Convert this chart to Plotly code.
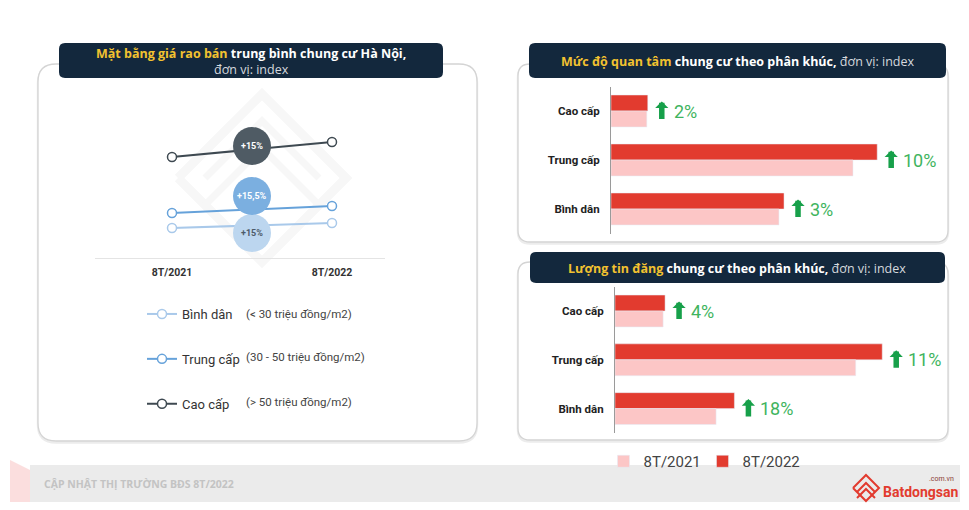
import plotly.graph_objects as go

W, H = 969, 510

# ---------------- data ----------------
periods = ["8T/2021", "8T/2022"]
line_segments = ["Bình dân", "Trung cấp", "Cao cấp"]
price_binh_dan = [30, 35]
price_trung_cap = [45, 52]
price_cao_cap = [101, 116]
price_change_labels = ["+15%", "+15,5%", "+15%"]
segment_ranges = ["(< 30 triệu đồng/m2)", "(30 - 50 triệu đồng/m2)", "(> 50 triệu đồng/m2)"]

bar_segments = ["Cao cấp", "Trung cấp", "Bình dân"]
interest_2021 = [14.8, 100, 69.4]
interest_2022 = [15.2, 110, 71.5]
interest_change = ["2%", "10%", "3%"]
listings_2021 = [20, 100, 42]
listings_2022 = [20.8, 111, 49.6]
listings_change = ["4%", "11%", "18%"]

# ---------------- styles ----------------
FONT = "Roboto"
TITLE_FONT = "Open Sans"
NAVY = "#13283d"
YELLOW = "#f2c230"
RED = "#e23b2f"
PINK = "#fcc6c6"
GREEN_ARROW = "#17a04a"
GREEN_TEXT = "#3fb45e"
LINE_COLORS = ["#a9c9ea", "#66a2da", "#3e4951"]
BUBBLE_COLORS = ["#bcd6ef", "#7bafe0", "#4f5b64"]
BUBBLE_TEXT = ["#4d5b69", "white", "white"]
BUBBLE_OFFSETS = [-7.5, 13.5, 3.5]  # px offset of bubble from line midpoint


def px(x):
    return x / W


def py(y):
    return 1 - y / H


def rrect(x0, y0, x1, y1, r):
    pts = [
        ("M", x0 + r, y0), ("L", x1 - r, y0), ("Q", x1, y0, x1, y0 + r),
        ("L", x1, y1 - r), ("Q", x1, y1, x1 - r, y1), ("L", x0 + r, y1),
        ("Q", x0, y1, x0, y1 - r), ("L", x0, y0 + r), ("Q", x0, y0, x0 + r, y0),
    ]
    s = ""
    for p in pts:
        cmd = p[0]
        coords = p[1:]
        pairs = []
        for i in range(0, len(coords), 2):
            pairs.append(f"{px(coords[i]):.5f},{py(coords[i+1]):.5f}")
        s += cmd + " " + " ".join(pairs) + " "
    return s + "Z"


def poly(points, close=False):
    s = "M " + " L ".join(f"{px(a):.5f},{py(b):.5f}" for a, b in points)
    return s + (" Z" if close else "")


fig = go.Figure()

# ---------------- left line chart ----------------
x_idx = list(range(len(periods)))
series = [price_binh_dan, price_trung_cap, price_cao_cap]
for name, vals, col in zip(line_segments, series, LINE_COLORS):
    fig.add_trace(go.Scatter(
        x=x_idx, y=vals, name=name, mode="lines+markers",
        line=dict(color=col, width=2),
        marker=dict(symbol="circle", size=9, color="white", line=dict(color=col, width=1.5)),
        xaxis="x", yaxis="y", legend="legend2", legendgroup=name, showlegend=True,
        hoverinfo="skip",
    ))

# ---------------- bar charts ----------------
fig.add_trace(go.Bar(y=bar_segments, x=interest_2022, orientation="h", name="8T/2022",
                     marker_color=RED, xaxis="x2", yaxis="y2", legendgroup="2022", legendrank=2))
fig.add_trace(go.Bar(y=bar_segments, x=interest_2021, orientation="h", name="8T/2021",
                     marker_color=PINK, xaxis="x2", yaxis="y2", legendgroup="2021", legendrank=1))
fig.add_trace(go.Bar(y=bar_segments, x=listings_2022, orientation="h", name="8T/2022",
                     marker_color=RED, xaxis="x3", yaxis="y3", legendgroup="2022", showlegend=False))
fig.add_trace(go.Bar(y=bar_segments, x=listings_2021, orientation="h", name="8T/2021",
                     marker_color=PINK, xaxis="x3", yaxis="y3", legendgroup="2021", showlegend=False))

shapes = []
annotations = []

# ---------------- decorations: panels ----------------
for (x0, y0, x1, y1, r) in [(38, 64, 477, 441, 18), (518, 64, 948, 242, 12), (518, 262, 948, 440, 12)]:
    shapes.append(dict(type="path", xref="paper", yref="paper", layer="below",
                       path=rrect(x0, y0 + 1.5, x1, y1 + 1.5, r),
                       line=dict(color="#ececec", width=2.5), fillcolor="rgba(0,0,0,0)"))
    shapes.append(dict(type="path", xref="paper", yref="paper", layer="below",
                       path=rrect(x0, y0, x1, y1, r),
                       line=dict(color="#d4d4d4", width=1.3), fillcolor="white"))

# watermark in the left panel
for pts, w in [
    ([(178, 178), (262, 94), (346, 178), (262, 262), (178, 178)], 9),
    ([(205, 178), (262, 121), (319, 178)], 7),
    ([(205, 205), (262, 148), (319, 205)], 7),
]:
    shapes.append(dict(type="path", xref="paper", yref="paper", layer="below",
                       path=poly(pts), line=dict(color="#f7f7f7", width=w)))

# title boxes
for (x0, y0, x1, y1) in [(59, 43, 443, 78), (529, 43, 946, 78), (530, 252, 945, 283)]:
    shapes.append(dict(type="path", xref="paper", yref="paper", layer="below",
                       path=rrect(x0, y0, x1, y1, 6), line=dict(width=0), fillcolor=NAVY))

# footer
shapes.append(dict(type="path", xref="paper", yref="paper", layer="below",
                   path=poly([(10, 460), (30, 470), (30, 502), (10, 502)], close=True),
                   line=dict(width=0), fillcolor="#fbdede"))
shapes.append(dict(type="rect", xref="paper", yref="paper", layer="below",
                   x0=px(30), x1=px(960), y0=py(502), y1=py(465),
                   line=dict(width=0), fillcolor="#ebebeb"))
# logo mark
for pts in [
    [(853, 488), (866, 475), (879, 488), (866, 501), (853, 488)],
    [(857, 492), (866, 483), (875, 492)],
    [(857, 498), (866, 489), (875, 498)],
]:
    shapes.append(dict(type="path", xref="paper", yref="paper", layer="below",
                       path=poly(pts), line=dict(color=RED, width=2)))

# ---------------- bubbles on the line chart ----------------
mid_x = sum(x_idx) / len(x_idx)
for vals, col, tcol, off, lab in zip(series, BUBBLE_COLORS, BUBBLE_TEXT, BUBBLE_OFFSETS, price_change_labels):
    mid_y = sum(vals) / len(vals)
    shapes.append(dict(type="circle", xref="x", yref="y", layer="above",
                       xsizemode="pixel", ysizemode="pixel", xanchor=mid_x, yanchor=mid_y,
                       x0=-19, x1=19, y0=off - 19, y1=off + 19,
                       fillcolor=col, line=dict(width=0)))
    annotations.append(dict(xref="x", yref="y", x=mid_x, y=mid_y, yshift=off,
                            text=f"<b>{lab}</b>", showarrow=False,
                            font=dict(size=9, color=tcol, family=FONT)))

# ---------------- titles ----------------
annotations.append(dict(
    xref="paper", yref="paper", x=px(251), y=py(61), xanchor="center", yanchor="middle",
    text=(f"<b><span style='color:{YELLOW}'>Mặt bằng giá rao bán</span> trung bình chung cư Hà Nội,</b>"
          f"<br><span style='color:#d6d9de'>đơn vị: index</span>"),
    showarrow=False, align="center", font=dict(size=12.5, color="white", family=TITLE_FONT)))
annotations.append(dict(
    xref="paper", yref="paper", x=px(737), y=py(61), xanchor="center", yanchor="middle",
    text=(f"<b><span style='color:{YELLOW}'>Mức độ quan tâm</span> chung cư theo phân khúc,</b>"
          f"<span style='color:#d6d9de'> đơn vị: index</span>"),
    showarrow=False, font=dict(size=12.5, color="white", family=TITLE_FONT)))
annotations.append(dict(
    xref="paper", yref="paper", x=px(737), y=py(268), xanchor="center", yanchor="middle",
    text=(f"<b><span style='color:{YELLOW}'>Lượng tin đăng</span> chung cư theo phân khúc,</b>"
          f"<span style='color:#d6d9de'> đơn vị: index</span>"),
    showarrow=False, font=dict(size=12.5, color="white", family=TITLE_FONT)))

# ---------------- left legend extra text ----------------
for lab, ypx in zip(segment_ranges, [314, 357, 402]):
    annotations.append(dict(xref="paper", yref="paper", x=px(244), y=py(ypx),
                            xanchor="left", yanchor="middle", text=lab, showarrow=False,
                            font=dict(size=11.5, color="#444444", family=FONT)))

# ---------------- growth labels on bars ----------------
for xa, ya, vals, labs in [("x2", "y2", interest_2022, interest_change),
                           ("x3", "y3", listings_2022, listings_change)]:
    for cat, v, lab in zip(bar_segments, vals, labs):
        annotations.append(dict(xref=xa, yref=ya, x=v, y=cat, xshift=14, yshift=9.5,
                                ax=0, ay=19, text="", showarrow=True,
                                arrowhead=1, arrowwidth=5.5, arrowsize=0.4,
                                arrowcolor=GREEN_ARROW))
        annotations.append(dict(xref=xa, yref=ya, x=v, y=cat, xshift=24,
                                xanchor="left", yanchor="middle", text=lab, showarrow=False,
                                font=dict(size=18, color=GREEN_TEXT, family=FONT)))

# ---------------- footer text ----------------
annotations.append(dict(xref="paper", yref="paper", x=px(42), y=py(484), xanchor="left",
                        yanchor="middle", text="<b>CẬP NHẬT THỊ TRƯỜNG BĐS 8T/2022</b>",
                        showarrow=False, font=dict(size=10.5, color="#c3c3c3", family=TITLE_FONT)))
annotations.append(dict(xref="paper", yref="paper", x=px(881), y=py(492), xanchor="left",
                        yanchor="middle", text="<b>Batdongsan</b>", showarrow=False,
                        font=dict(size=14, color=RED, family="Roboto")))
annotations.append(dict(xref="paper", yref="paper", x=px(956), y=py(479), xanchor="right",
                        yanchor="middle", text=".com.vn", showarrow=False,
                        font=dict(size=7, color="#8a3a35", family=FONT)))

cat_tickfont = dict(size=11.5, color="#222222", family=FONT, weight="bold")

fig.update_layout(
    width=W, height=H, margin=dict(l=0, r=0, t=0, b=0),
    paper_bgcolor="white", plot_bgcolor="rgba(0,0,0,0)",
    font=dict(family=FONT, color="#333333"),
    barmode="group", bargap=0.347, bargroupgap=0,
    xaxis=dict(domain=[px(95.2), px(384.8)], range=[-0.48, 1.33], anchor="y",
               tickvals=x_idx, ticktext=periods, showgrid=False, zeroline=False,
               showline=True, linecolor="#e4e4e4", linewidth=1,
               ticks="outside", ticklen=4, tickcolor="rgba(0,0,0,0)",
               tickfont=dict(size=10.5, color="#333333", family=FONT, weight="bold")),
    yaxis=dict(domain=[py(258), py(120)], range=[0, 138], anchor="x", visible=False),
    xaxis2=dict(domain=[px(611), px(940)], range=[0, 135.95], anchor="y2", visible=False),
    yaxis2=dict(domain=[py(233.5), py(86.5)], anchor="x2", autorange="reversed",
                type="category", showgrid=False, showline=True, linecolor="#9a9a9a",
                linewidth=1, ticks="outside", ticklen=8, tickcolor="rgba(0,0,0,0)",
                tickfont=cat_tickfont),
    xaxis3=dict(domain=[px(615), px(940)], range=[0, 135.0], anchor="y3", visible=False),
    yaxis3=dict(domain=[py(433), py(286.6)], anchor="x3", autorange="reversed",
                type="category", showgrid=False, showline=True, linecolor="#9a9a9a",
                linewidth=1, ticks="outside", ticklen=8, tickcolor="rgba(0,0,0,0)",
                tickfont=cat_tickfont),
    legend=dict(orientation="h", x=px(603.5), y=py(445), xanchor="left", yanchor="top",
                font=dict(size=15, color="#444444", family=FONT), bgcolor="rgba(0,0,0,0)",
                entrywidth=54, entrywidthmode="pixels", traceorder="normal"),
    legend2=dict(x=px(142), y=py(299), xanchor="left", yanchor="top",
                 font=dict(size=13, color="#333333", family=FONT), bgcolor="rgba(0,0,0,0)",
                 tracegroupgap=25),
    shapes=shapes, annotations=annotations, hovermode=False,
)

fig.write_html("out.html", config={"displayModeBar": False},
               post_script="document.body.style.margin='0';document.body.style.overflow='hidden';")
